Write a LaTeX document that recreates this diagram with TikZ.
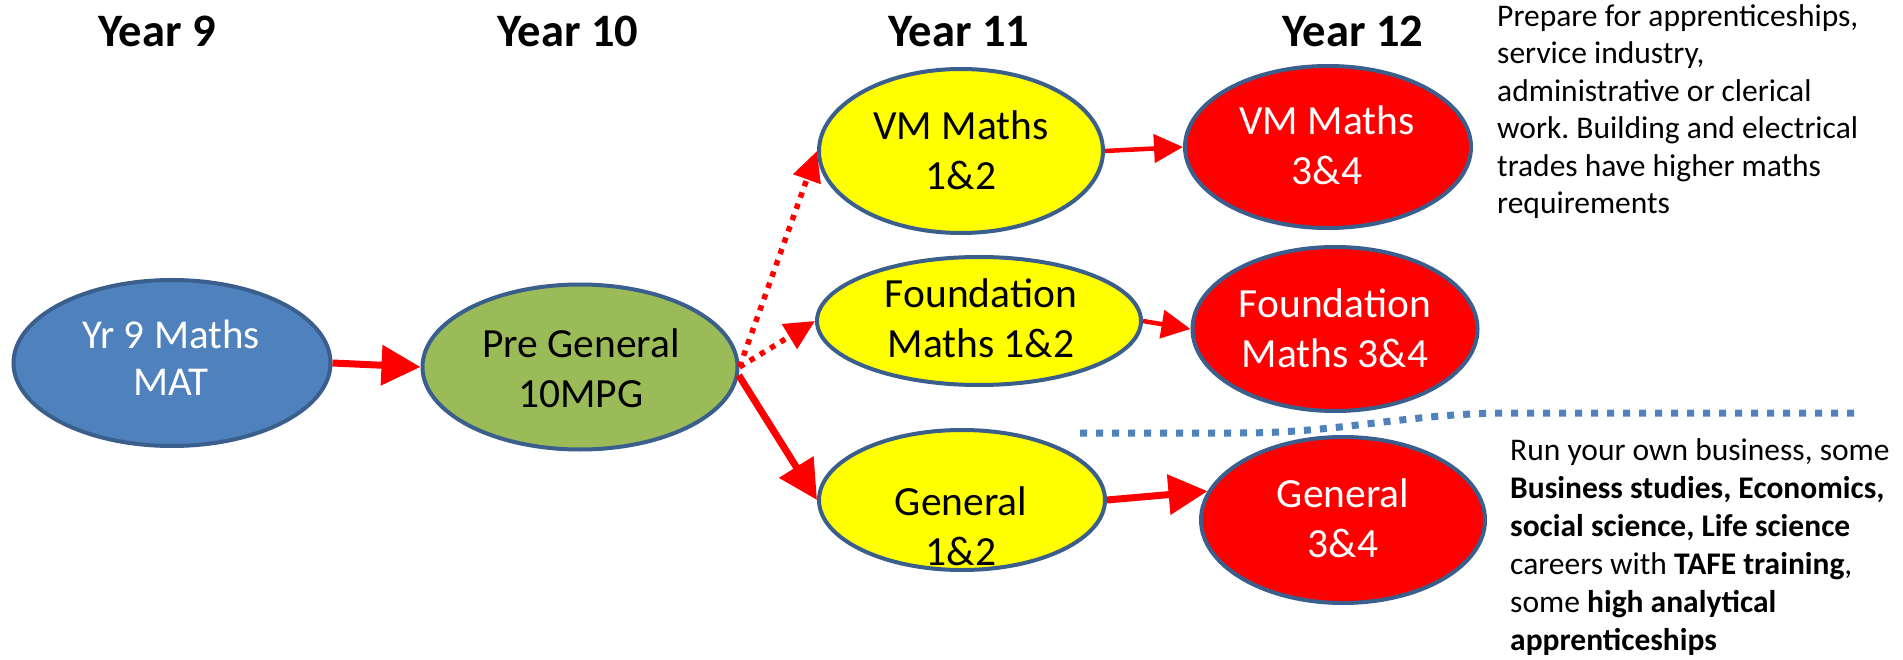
\documentclass[tikz,border=0pt]{standalone}
\usepackage{fontspec}
\setmainfont{Carlito}
\frenchspacing
\usetikzlibrary{shapes.geometric,arrows.meta}
\definecolor{olb}{HTML}{3A5F8C}
\definecolor{fblue}{HTML}{4F81BD}
\definecolor{fgreen}{HTML}{9BBB59}
\definecolor{fyellow}{HTML}{FFFF00}
\definecolor{fred}{HTML}{FF0000}
\definecolor{dotblue}{HTML}{4F81BD}
\begin{document}
\begin{tikzpicture}[x=1pt,y=-1pt,
 ell/.style={ellipse,draw=olb,line width=4pt,inner sep=0pt},
 etext/.style={align=center,inner sep=0pt,font=\fontsize{41.5}{50}\selectfont},
 yeartitle/.style={anchor=base,inner sep=0pt,font=\fontsize{46.5}{56}\selectfont\bfseries},
 bigarrow/.style={draw=fred,line width=7pt,-{Triangle[length=39pt,width=39pt]}},
 smallarrow/.style={draw=fred,line width=4.5pt,-{Triangle[length=29pt,width=28pt]}},
 dotarrow/.style={draw=fred,line width=5.5pt,dash pattern=on 5.5pt off 6.5pt,-{Triangle[length=30pt,width=28pt]}},
 sidenote/.style={align=left,anchor=north west,inner sep=0pt}
]
\useasboundingbox[fill=white] (0,0) rectangle (1903,660);

% titles
\node[yeartitle] (t9)  at (157,46.5)  {Year 9};
\node[yeartitle] (t10) at (568,46.5)  {Year 10};
\node[yeartitle] (t11) at (959,46.5)  {Year 11};
\node[yeartitle] (t12) at (1353,46.5) {Year 12};

% ellipses
\node[ell,fill=fblue,minimum width=317pt,minimum height=166pt]   (yr9)   at (172,363) {};
\node[ell,fill=fgreen,minimum width=315pt,minimum height=165pt]  (pregen) at (580,367) {};
\node[ell,fill=fyellow,minimum width=284pt,minimum height=164pt] (vm12)  at (961,151) {};
\node[ell,fill=fyellow,minimum width=324pt,minimum height=128pt] (fnd12) at (979,321) {};
\node[ell,fill=fyellow,minimum width=286pt,minimum height=140pt] (gen12) at (962,500) {};
\node[ell,fill=fred,minimum width=286pt,minimum height=162pt]    (vm34)  at (1328,147) {};
\node[ell,fill=fred,minimum width=285pt,minimum height=164pt]    (fnd34) at (1335,329) {};
\node[ell,fill=fred,minimum width=284pt,minimum height=166pt]    (gen34) at (1343,520) {};

% ellipse texts
\node[etext,text=white,font=\fontsize{41}{47}\selectfont] (yr9t) at (171,363) {\strut Yr 9 Maths\\\strut MAT};
\node[etext]            (pregent) at (581,372)  {\strut Pre General\\\strut 10MPG};
\node[etext]            (vm12t)   at (961,155)  {\strut VM Maths\\\strut 1\&2};
\node[etext]            (fnd12t)  at (981,322)  {\strut Foundation\\\strut Maths 1\&2};
\node[etext]            (gen12t)  at (961,530)  {\strut General\\\strut 1\&2};
\node[etext,text=white] (vm34t)   at (1327,150) {\strut VM Maths\\\strut 3\&4};
\node[etext,text=white] (fnd34t)  at (1335,332) {\strut Foundation\\\strut Maths 3\&4};
\node[etext,text=white] (gen34t)  at (1343,522) {\strut General\\\strut 3\&4};

% connectors
\draw[bigarrow] (yr9.east) -- (pregen.west);
\draw[dotarrow] (pregen.east) -- (vm12.west);
\draw[dotarrow] (pregen.east) -- (fnd12.west);
\draw[bigarrow] (pregen.-3) -- (gen12.west);
\draw[smallarrow] (vm12.east) -- (vm34.west);
\draw[smallarrow] (fnd12.east) -- (fnd34.west);
\draw[bigarrow] (gen12.east) -- (gen34.168);

% separator
\coordinate (sepa) at (1080,433);
\coordinate (sepb) at (1240,433);
\coordinate (sepc) at (1510,413);
\coordinate (sepd) at (1855,413);
\draw[dotblue,line width=7pt,dash pattern=on 7pt off 9pt]
  (sepa) -- (sepb) .. controls (1340,433) and (1410,413) .. (sepc) -- (sepd);

% side notes
\node[sidenote,font=\fontsize{31.5}{37.5}\selectfont] (topnote) at (1497,-0.25)
 {\strut Prepare for apprenticeships,\\
  \strut service industry,\\
  \strut administrative or clerical\\
  \strut work. Building and electrical\\
  \strut trades have higher maths\\
  \strut requirements};
\node[sidenote,font=\fontsize{31.5}{38}\selectfont] (botnote) at (1510,433.4)
 {\strut Run your own business, some\\
  \strut \textbf{Business studies, Economics,}\\
  \strut \textbf{social science, Life science}\\
  \strut careers with \textbf{TAFE training},\\
  \strut some \textbf{high analytical}\\
  \strut \textbf{apprenticeships}};
\end{tikzpicture}
\end{document}
